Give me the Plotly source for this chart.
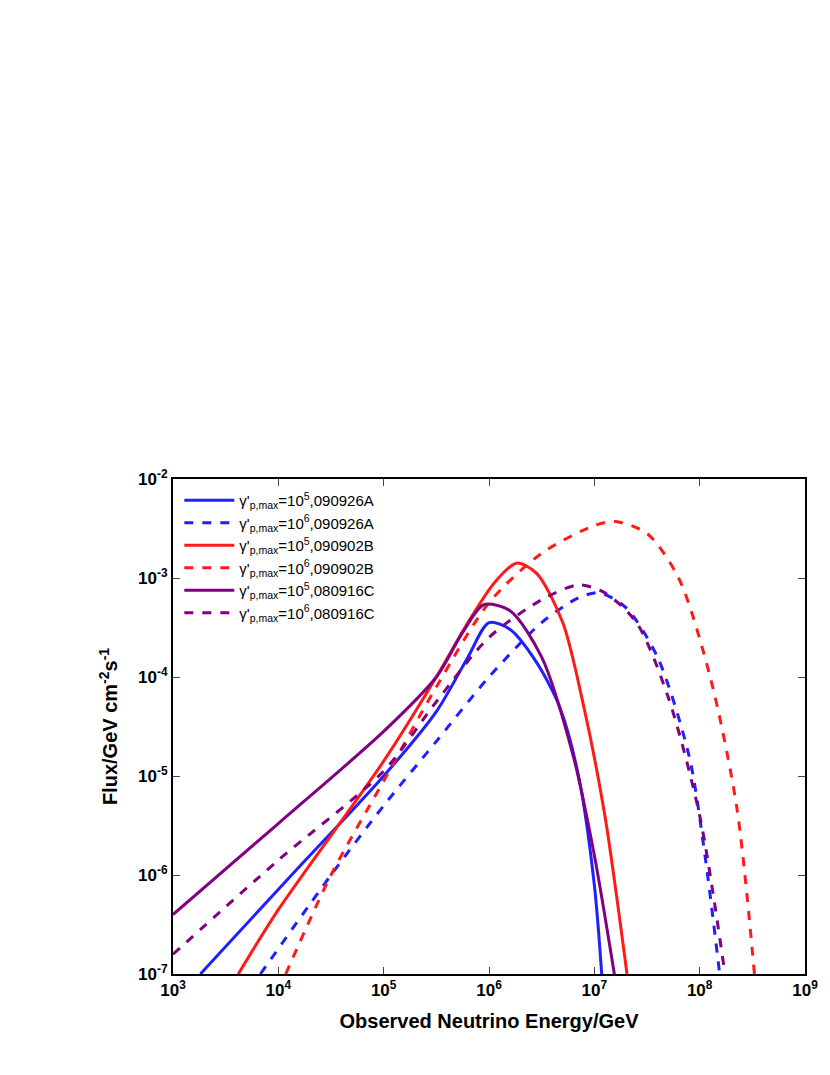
import plotly.graph_objects as go

# log10(E/GeV), log10(flux)
blue_solid_x = [3.26, 4.1, 5, 5.5, 5.8, 6.0, 6.2, 6.45, 6.67, 6.85, 7.0, 7.07]
blue_solid_y = [-7, -6.03, -5.0, -4.35, -3.8, -3.45, -3.52, -3.85, -4.3, -5.0, -6.1, -7]
blue_dash_x = [3.83, 4.5, 5, 5.5, 6, 6.5, 6.85, 7.05, 7.3, 7.6, 7.9, 8.05, 8.19]
blue_dash_y = [-7, -6.0, -5.3, -4.65, -4.0, -3.45, -3.2, -3.15, -3.3, -3.8, -4.8, -5.8, -7]
red_solid_x = [3.62, 4, 5, 5.5, 5.8, 6.05, 6.26, 6.45, 6.7, 6.9, 7.1, 7.31]
red_solid_y = [-7, -6.35, -4.85, -4.0, -3.45, -3.05, -2.85, -2.95, -3.45, -4.3, -5.4, -7]
red_dash_x = [4.07, 4.5, 5, 5.5, 6, 6.5, 7, 7.2, 7.5, 7.8, 8.1, 8.35, 8.52]
red_dash_y = [-7, -6.0, -5.05, -4.1, -3.25, -2.75, -2.47, -2.43, -2.55, -3.0, -4.0, -5.3, -7]
purple_solid_x = [3, 4, 5, 5.5, 5.75, 5.95, 6.2, 6.5, 6.8, 7.0, 7.19]
purple_solid_y = [-6.4, -5.48, -4.55, -4.0, -3.55, -3.27, -3.33, -3.8, -4.8, -5.8, -7]
purple_dash_x = [3, 4, 5, 5.5, 6, 6.5, 6.85, 7.1, 7.4, 7.7, 8.0, 8.24]
purple_dash_y = [-6.8, -5.85, -4.95, -4.25, -3.6, -3.22, -3.07, -3.15, -3.45, -4.2, -5.4, -7]

names = ["γ'<sub>p,max</sub>=10<sup>5</sup>,090926A", "γ'<sub>p,max</sub>=10<sup>6</sup>,090926A",
         "γ'<sub>p,max</sub>=10<sup>5</sup>,090902B", "γ'<sub>p,max</sub>=10<sup>6</sup>,090902B",
         "γ'<sub>p,max</sub>=10<sup>5</sup>,080916C", "γ'<sub>p,max</sub>=10<sup>6</sup>,080916C"]
series = [(blue_solid_x, blue_solid_y, "#1f1fff", "solid"), (blue_dash_x, blue_dash_y, "#1f1fff", "dash"),
          (red_solid_x, red_solid_y, "#ff1a1a", "solid"), (red_dash_x, red_dash_y, "#ff1a1a", "dash"),
          (purple_solid_x, purple_solid_y, "#800080", "solid"), (purple_dash_x, purple_dash_y, "#800080", "dash")]

fig = go.Figure()
for (xs, ys, c, d), n in zip(series, names):
    fig.add_trace(go.Scatter(x=[10**v for v in xs], y=[10**v for v in ys], mode="lines", name=n,
                             line=dict(color=c, width=3, dash=d, shape="spline", smoothing=0.8)))

tickv = [10**k for k in range(3, 10)]
fig.update_layout(
    width=830, height=1075, plot_bgcolor="white", paper_bgcolor="white",
    margin=dict(l=165, r=33, t=471, b=109),
    font=dict(family="Liberation Sans, Arial", color="black", size=14),
    legend=dict(x=0.01, y=0.99, xanchor="left", yanchor="top", bgcolor="rgba(0,0,0,0)",
                font=dict(size=15), tracegroupgap=0, itemwidth=50),
    xaxis=dict(type="log", range=[3, 9], tickvals=tickv,
               ticktext=[f"<b>10<sup>{k}</sup></b>" for k in range(3, 10)],
               ticks="inside", ticklen=7, mirror="ticks", showline=True, linecolor="black", linewidth=2,
               showgrid=False, tickfont=dict(size=17),
               title=dict(text="<b>Observed Neutrino Energy/GeV</b>", font=dict(size=20))),
    yaxis=dict(type="log", range=[-7, -2], tickvals=[10**k for k in range(-7, -1)],
               ticktext=[f"<b>10<sup>{k}</sup></b>" for k in range(-7, -1)],
               ticks="inside", ticklen=7, mirror="ticks", showline=True, linecolor="black", linewidth=2,
               showgrid=False, tickfont=dict(size=17),
               title=dict(text="<b>Flux/GeV cm<sup>-2</sup>s<sup>-1</sup></b>", font=dict(size=20))),
)
fig.write_html("out.html")
